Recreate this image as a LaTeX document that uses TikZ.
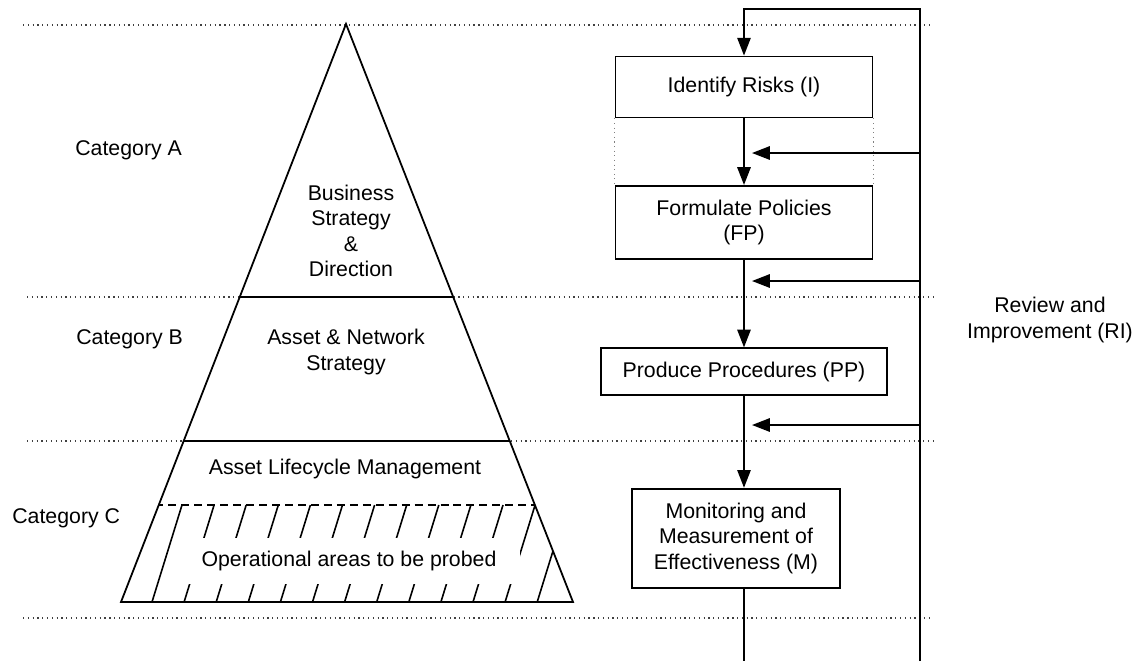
\documentclass[tikz,border=0pt]{standalone}
\usepackage{fontspec}
\setmainfont{Liberation Sans}
\usetikzlibrary{positioning}
\usetikzlibrary{arrows.meta}

\tikzset{
  stage/.style={draw, line width=1pt, fill=white, align=center, inner sep=2pt},
  band/.style={dotted, line width=0.7pt, black!75},
  link/.style={->, line width=1pt},
  catlabel/.style={anchor=base west, inner sep=0pt},
}

\begin{document}
\begin{tikzpicture}[x=0.5634pt, y=-0.5634pt, >={Triangle[length=10pt,width=7.5pt]},
    font=\fontsize{12}{14.3}\selectfont]
  \useasboundingbox (0,0) rectangle (1139,661);

  % category bands
  \foreach \y/\x in {25/23, 297/27, 441/27, 618/23}
    \draw[band] (\x,\y) -- (933,\y);

  \node[catlabel] (catA) at (75,155) {Category A};
  \node[catlabel] (catB) at (76,344) {Category B};
  \node[catlabel] (catC) at (12,523) {Category C};

  % the pyramid
  \coordinate (apex)  at (346,24);
  \coordinate (baseL) at (121,602);
  \coordinate (baseR) at (573,602);
  \begin{scope}
    \clip (apex) -- (baseL) -- (baseR) -- cycle;
    \draw[line width=1pt] (0,297) -- (1139,297);
    \draw[line width=1pt] (0,441) -- (1139,441);
    \draw[line width=0.9pt, dash pattern=on 4.5pt off 2.8pt] (0,505) -- (1139,505);
    \foreach \k in {0,...,12}
      \draw[line width=0.9pt] (152+32.1*\k,602) -- ++(30,-97);
  \end{scope}
  \draw[line width=1pt] (apex) -- (baseL) -- (baseR) -- cycle;

  \node[align=center] (business) at (351,231) {Business\\Strategy\\\&\\Direction};
  \node[align=center] (network) at (346,352) {Asset \& Network\\Strategy};
  \node[anchor=base] (lifecycle) at (345,474.5) {Asset Lifecycle Management};
  \node[fill=white, minimum width=192.7pt, minimum height=25.9pt, inner sep=0pt]
    (probed) at (349,561) {Operational areas to be probed};

  % process steps
  \node[stage, minimum width=144.8pt, minimum height=34.4pt] (risks) at (744,87) {Identify Risks (I)};
  \node[stage, minimum width=144.8pt, minimum height=41.1pt, below=37.5pt of risks] (policies) {Formulate Policies\\(FP)};
  \node[stage, minimum width=161.1pt, minimum height=26.5pt, below=49.4pt of policies] (procedures) {Produce Procedures (PP)};
  \node[stage, minimum width=117.2pt, minimum height=55.8pt, below=51.6pt of procedures, xshift=-4.5pt] (monitor) {Monitoring and\\Measurement of\\Effectiveness (M)};

  \draw[dotted, gray, line width=0.6pt]
    (risks.south west) -- (policies.north west)
    (risks.south east) -- (policies.north east);

  \coordinate (loopTop) at (920,9);
  \coordinate (loopEnd) at (920,661);
  \coordinate (outEnd)  at (744,661);

  \draw[link] (loopEnd) -- (loopTop) -| (risks.north);
  \draw[link] (risks.south) -- (policies.north);
  \draw[link] (policies.south) -- (procedures.north);
  \draw[link] (procedures.south) -- (procedures.south |- monitor.north);
  \draw[line width=1pt] (outEnd |- monitor.south) -- (outEnd);

  % feedback into the chain
  \foreach \y [count=\i] in {153,281,425} {
    \coordinate (fb\i) at (920,\y);
    \coordinate (in\i) at (752,\y);
    \draw[link] (fb\i) -- (in\i);
  }

  \node[align=center] (review) at (1050,320) {Review and\\Improvement (RI)};
\end{tikzpicture}
\end{document}
